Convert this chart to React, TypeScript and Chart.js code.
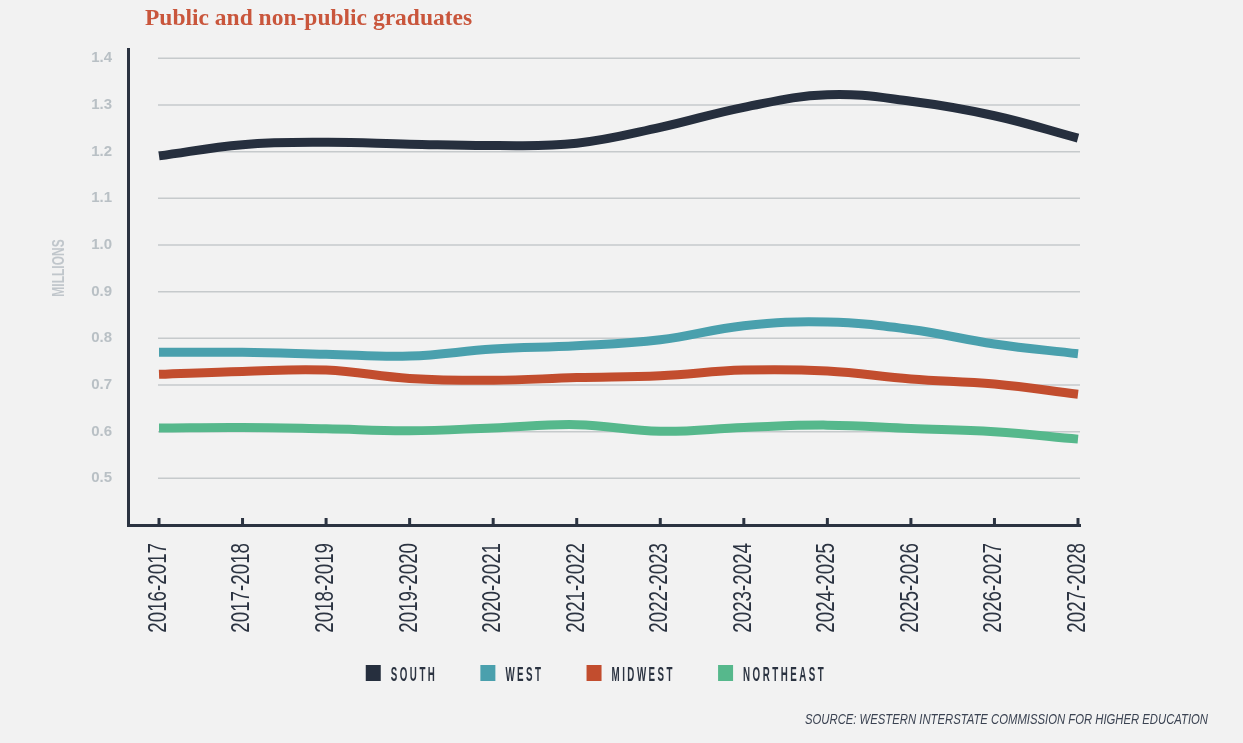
import React, { useEffect, useRef } from 'react';
import { Chart, registerables } from 'chart.js';

Chart.register(...registerables);

const TITLE = 'Public and non-public graduates';
const Y_TITLE = 'MILLIONS';
const SOURCE = 'SOURCE: WESTERN INTERSTATE COMMISSION FOR HIGHER EDUCATION';

const years = [
  '2016-2017', '2017-2018', '2018-2019', '2019-2020', '2020-2021', '2021-2022',
  '2022-2023', '2023-2024', '2024-2025', '2025-2026', '2026-2027', '2027-2028',
];
const yTicks = [0.5, 0.6, 0.7, 0.8, 0.9, 1.0, 1.1, 1.2, 1.3, 1.4];

const south = [1.191, 1.215, 1.220, 1.216, 1.213, 1.218, 1.252, 1.295, 1.322, 1.308, 1.277, 1.229];
const west = [0.770, 0.770, 0.766, 0.762, 0.777, 0.784, 0.797, 0.827, 0.835, 0.819, 0.788, 0.767];
const midwest = [0.723, 0.729, 0.732, 0.714, 0.710, 0.716, 0.720, 0.732, 0.730, 0.713, 0.702, 0.680];
const northeast = [0.608, 0.609, 0.606, 0.602, 0.608, 0.615, 0.601, 0.609, 0.614, 0.607, 0.600, 0.584];

const seriesNames = ['SOUTH', 'WEST', 'MIDWEST', 'NORTHEAST'];
const seriesValues = [south, west, midwest, northeast];
const seriesColors = ['#262f3e', '#4aa0ad', '#c24d2e', '#56b88c'];

const AXIS = '#2b3341';
const GRID = '#c6cacc';
const SANS = '"Liberation Sans", Arial, sans-serif';

const decor = {
  id: 'decor',
  beforeDatasetsDraw(chart: any) {
    const { ctx, chartArea, scales } = chart;
    const x = scales.x;
    const y = scales.y;
    const x0 = x.getPixelForValue(0);
    ctx.save();
    ctx.strokeStyle = GRID;
    ctx.lineWidth = 1.5;
    yTicks.forEach((v) => {
      const py = y.getPixelForValue(v);
      ctx.beginPath();
      ctx.moveTo(x0 - 1, py);
      ctx.lineTo(chartArea.right, py);
      ctx.stroke();
    });
    ctx.strokeStyle = AXIS;
    ctx.lineWidth = 3;
    years.forEach((_, i) => {
      const px = x.getPixelForValue(i);
      ctx.beginPath();
      ctx.moveTo(px, chartArea.bottom);
      ctx.lineTo(px, chartArea.bottom - 7);
      ctx.stroke();
    });
    ctx.restore();
  },
  afterDraw(chart: any) {
    const { ctx, chartArea, scales } = chart;
    const x = scales.x;
    ctx.save();

    // X category labels (narrow, rotated)
    ctx.font = `25px ${SANS}`;
    ctx.fillStyle = AXIS;
    ctx.textAlign = 'right';
    ctx.textBaseline = 'middle';
    years.forEach((lab, i) => {
      const px = x.getPixelForValue(i);
      ctx.save();
      ctx.translate(px, chartArea.bottom + 18);
      ctx.rotate(-Math.PI / 2);
      ctx.scale(0.75, 1);
      ctx.fillText(lab, 0, 0);
      ctx.restore();
    });

    // Title
    ctx.fillStyle = '#c9563c';
    ctx.font = 'bold 23.5px "Liberation Serif", "DejaVu Serif", serif';
    ctx.textAlign = 'left';
    ctx.textBaseline = 'alphabetic';
    ctx.fillText(TITLE, 145, 25);

    // Y axis title
    ctx.save();
    ctx.translate(60, 268);
    ctx.rotate(-Math.PI / 2);
    ctx.scale(0.75, 1);
    ctx.fillStyle = '#c0c6cb';
    ctx.font = `bold 16px ${SANS}`;
    ctx.textAlign = 'center';
    ctx.textBaseline = 'middle';
    ctx.fillText(Y_TITLE, 0, 0);
    ctx.restore();

    // Legend
    const sx = 0.5;
    ctx.font = `bold 19.5px ${SANS}`;
    try { (ctx as any).letterSpacing = '5px'; } catch (e) { /* ignore */ }
    const ds = chart.data.datasets;
    const widths = ds.map((d: any) => ctx.measureText(d.label).width * sx);
    const box = 15;
    const gapBox = 10;
    const gapItem = 43;
    const total = widths.reduce((a: number, w: number) => a + w + box + gapBox, 0) + gapItem * (ds.length - 1);
    const center = (chartArea.left + chartArea.right) / 2 - 8;
    let cx = center - total / 2;
    ds.forEach((d: any, k: number) => {
      ctx.fillStyle = d.borderColor;
      ctx.fillRect(cx, 665, box, 16);
      ctx.fillStyle = AXIS;
      ctx.save();
      ctx.translate(cx + box + gapBox, 681);
      ctx.scale(sx, 1);
      ctx.textAlign = 'left';
      ctx.textBaseline = 'alphabetic';
      ctx.fillText(d.label, 0, 0);
      ctx.restore();
      cx += box + gapBox + widths[k] + gapItem;
    });
    try { (ctx as any).letterSpacing = '0px'; } catch (e) { /* ignore */ }

    // Source
    ctx.font = `italic 15px ${SANS}`;
    const sw = ctx.measureText(SOURCE).width;
    const ss = 403 / sw;
    ctx.save();
    ctx.translate(1208, 724);
    ctx.scale(ss, 1);
    ctx.fillStyle = '#3b4352';
    ctx.textAlign = 'right';
    ctx.textBaseline = 'alphabetic';
    ctx.fillText(SOURCE, 0, 0);
    ctx.restore();

    ctx.restore();
  },
};

export default function App() {
  const ref = useRef<HTMLCanvasElement | null>(null);

  useEffect(() => {
    const canvas = ref.current;
    if (!canvas) return;
    const chart = new Chart(canvas, {
      type: 'line',
      data: {
        datasets: seriesValues.map((vals, k) => ({
          label: seriesNames[k],
          data: vals.map((v, i) => ({ x: i, y: v })),
          borderColor: seriesColors[k],
          backgroundColor: seriesColors[k],
          borderWidth: 9,
          pointRadius: 0,
          pointHoverRadius: 0,
          tension: 0.4,
          fill: false,
          borderCapStyle: 'butt',
        })),
      },
      options: {
        responsive: false,
        animation: false,
        events: [],
        layout: { padding: { top: 49, right: 163, bottom: 93, left: 0 } },
        plugins: {
          legend: { display: false },
          title: { display: false },
          tooltip: { enabled: false },
        },
        scales: {
          x: {
            type: 'linear',
            min: -0.371,
            max: 11.024,
            afterBuildTicks: (s: any) => {
              s.ticks = years.map((_, i) => ({ value: i }));
            },
            afterFit: (s: any) => {
              s.height = 125;
            },
            grid: { display: false, drawTicks: false },
            border: { display: true, color: AXIS, width: 3 },
            ticks: { display: false },
          },
          y: {
            min: 0.4,
            max: 1.42,
            afterBuildTicks: (s: any) => {
              s.ticks = yTicks.map((v) => ({ value: v }));
            },
            afterFit: (s: any) => {
              s.width = 128;
            },
            grid: { display: false, drawTicks: false },
            border: { display: true, color: AXIS, width: 3 },
            ticks: {
              padding: 16,
              color: '#b9c0c5',
              font: { family: SANS, size: 15, weight: 'bold' },
              callback: (v: any) => Number(v).toFixed(1),
            },
          },
        },
      },
      plugins: [decor],
    } as any);
    return () => chart.destroy();
  }, []);

  return (
    <div style={{ position: 'fixed', left: 0, top: 0, width: '100vw', height: '100vh', background: '#f2f2f2', overflow: 'hidden' }}>
      <canvas ref={ref} width={1243} height={743} style={{ display: 'block', width: 1243, height: 743 }} />
    </div>
  );
}
